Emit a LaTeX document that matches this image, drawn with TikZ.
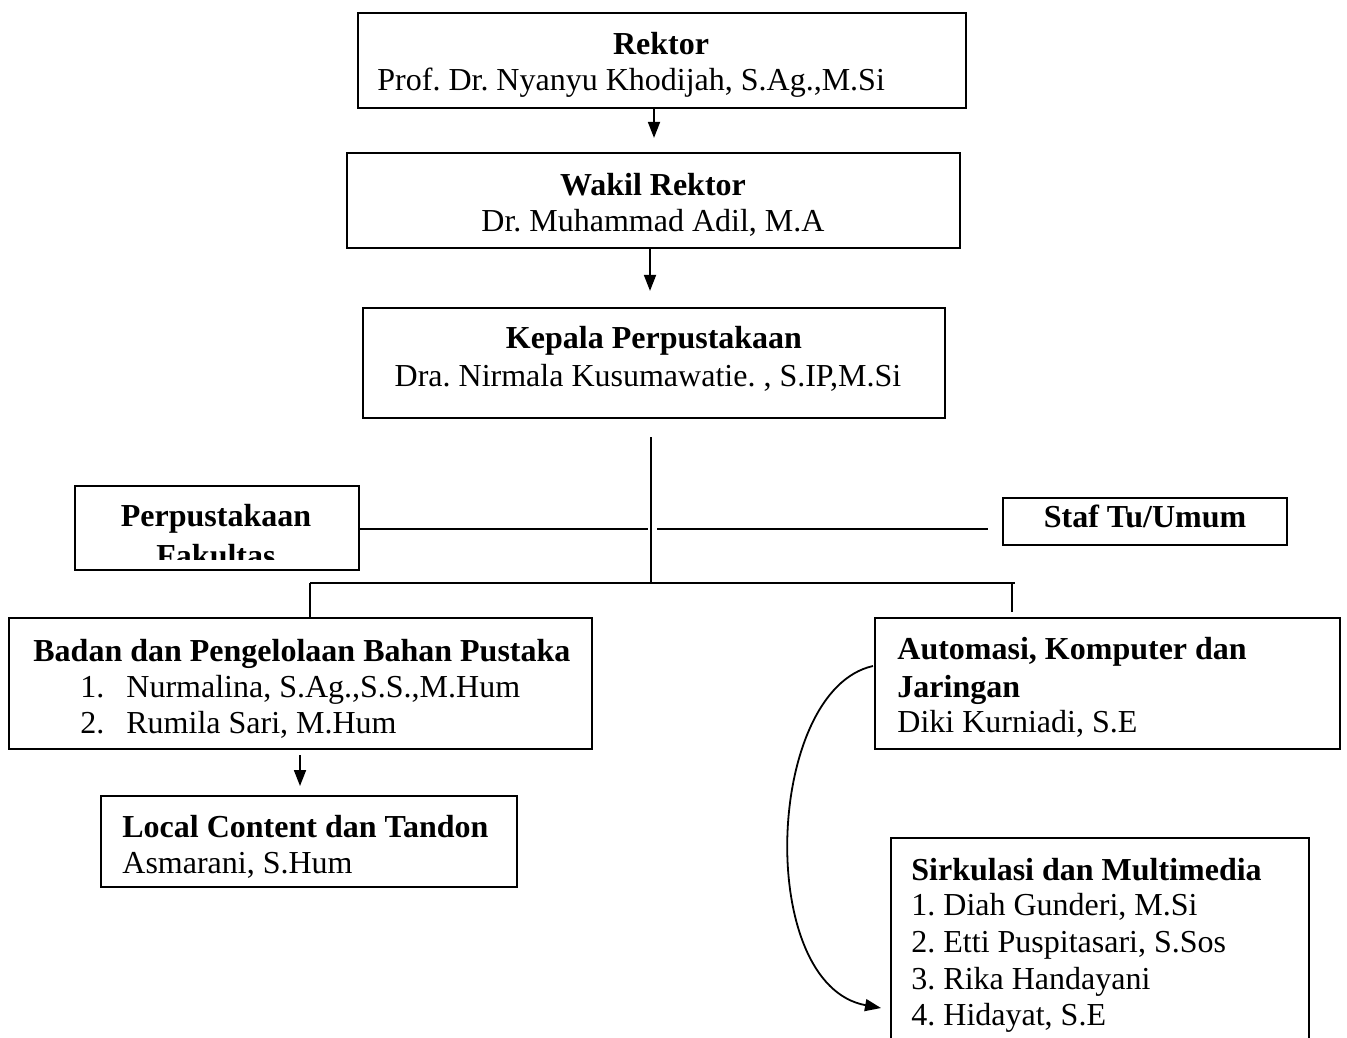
\documentclass[tikz,border=0pt]{standalone}
\usepackage{fontspec}
\setmainfont{Liberation Serif}
\usetikzlibrary{fit,arrows.meta}
\frenchspacing
\begin{document}
\begin{tikzpicture}[x=0.5pt,y=-0.5pt,
  box/.style={draw, line width=0.9pt, inner sep=0pt},
  txt/.style={inner sep=0pt, font=\fontsize{16}{18}\selectfont},
  btxt/.style={inner sep=0pt, font=\fontsize{16}{18}\selectfont\bfseries},
  con/.style={line width=0.75pt},
  arr/.style={line width=0.9pt, -{Triangle[length=8pt,width=6pt]}}]
\useasboundingbox (0,0) rectangle (1347,1037);
\clip (0,0) rectangle (1347,1037);

% Rektor
\node[box, fit={(358,13) (966,108)}] (rektor) {};
\node[btxt, anchor=base] (trektor) at (661,55) {Rektor};
\node[txt, anchor=base west] (nrektor) at (377,91) {Prof. Dr. Nyanyu Khodijah, S.Ag.,M.Si};

% Wakil Rektor
\node[box, fit={(347,153) (960,248)}] (wakil) {};
\node[btxt, anchor=base] (twakil) at (653,196) {Wakil Rektor};
\node[txt, anchor=base] (nwakil) at (653,232) {Dr. Muhammad Adil, M.A};

% Kepala
\node[box, fit={(363,308) (945,418)}] (kepala) {};
\node[btxt, anchor=base] (tkepala) at (654,349) {Kepala Perpustakaan};
\node[txt, anchor=base] (nkepala) at (648,386) {Dra. Nirmala Kusumawatie. , S.IP,M.Si};

% Perpustakaan Fakultas
\node[box, fit={(75,486) (359,570)}] (fak) {};
\begin{scope}
  \clip (76,487) rectangle (358,559);
  \node[btxt, anchor=base] (tfak1) at (216,526) {Perpustakaan};
  \node[btxt, anchor=base] (tfak2) at (216,566) {Fakultas};
\end{scope}

% Staf
\node[box, fit={(1003,498) (1287,545)}] (staf) {};
\node[btxt, anchor=base] (tstaf) at (1145,527) {Staf Tu/Umum};

% Badan
\node[box, fit={(9,618) (592,749)}] (badan) {};
\node[btxt, anchor=base west] (tbadan) at (33,661) {Badan dan Pengelolaan Bahan Pustaka};
\node[txt, anchor=base west] (b1n) at (80,697) {1.};
\node[txt, anchor=base west] (b1) at (126,697) {Nurmalina, S.Ag.,S.S.,M.Hum};
\node[txt, anchor=base west] (b2n) at (80,733) {2.};
\node[txt, anchor=base west] (b2) at (126,733) {Rumila Sari, M.Hum};

% Local content
\node[box, fit={(101,796) (517,887)}] (local) {};
\node[btxt, anchor=base west] (tlocal) at (122,837) {Local Content dan Tandon};
\node[txt, anchor=base west] (nlocal) at (122,873) {Asmarani, S.Hum};

% Automasi
\node[box, fit={(875,618) (1340,749)}] (auto) {};
\node[btxt, anchor=base west] (tauto1) at (897,659) {Automasi, Komputer dan};
\node[btxt, anchor=base west] (tauto2) at (897,697) {Jaringan};
\node[txt, anchor=base west] (nauto) at (897,732) {Diki Kurniadi, S.E};

% Sirkulasi
\node[box, fit={(891,838) (1309,1070)}] (sirk) {};
\node[btxt, anchor=base west] (tsirk) at (911,880) {Sirkulasi dan Multimedia};
\node[txt, anchor=base west] (s1) at (911,915) {1. Diah Gunderi, M.Si};
\node[txt, anchor=base west] (s2) at (911,952) {2. Etti Puspitasari, S.Sos};
\node[txt, anchor=base west] (s3) at (911,989) {3. Rika Handayani};
\node[txt, anchor=base west] (s4) at (911,1025) {4. Hidayat, S.E};

% Connectors
\coordinate (a1) at (654,108);
\draw[arr] (rektor.south -| a1) -- ++(0,29);
\coordinate (a2) at (650,248);
\draw[arr] (wakil.south -| a2) -- ++(0,42);

\coordinate (k1) at (651,437);
\coordinate (j) at (651,583);
\draw[con] (k1) -- (j);

\coordinate (h1) at (648,529);
\coordinate (h2) at (657,529);
\coordinate (h3) at (988,529);
\draw[con] (fak.east |- h1) -- (h1);
\draw[con] (h2) -- (h3);

\coordinate (bl) at (310,583);
\coordinate (br) at (1015,583);
\coordinate (bd) at (1012,583);
\draw[con] (bl) -- (br);
\draw[con] (bl) -- (bl |- badan.north);
\draw[con] (bd) -- ++(0,29);

\coordinate (a3) at (300,755);
\draw[arr] (a3) -- ++(0,31);

\coordinate (c1) at (873,666);
\coordinate (c2) at (881,1008);
\draw[arr] (c1) .. controls (765,690) and (755,985) .. (c2);
\end{tikzpicture}
\end{document}
